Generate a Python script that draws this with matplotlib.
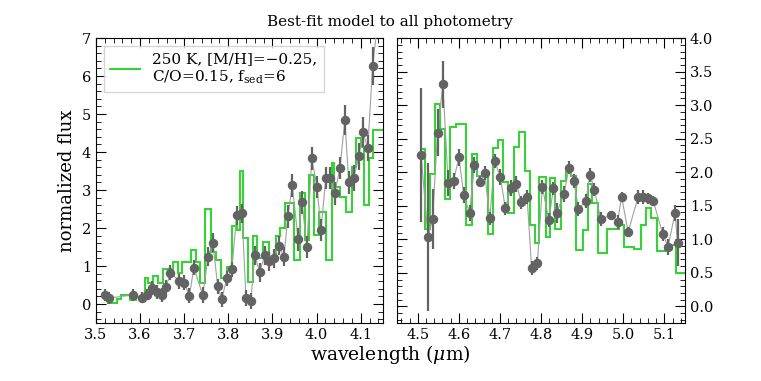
import numpy as np
import matplotlib
matplotlib.use("Agg")
import matplotlib.pyplot as plt
from matplotlib.ticker import MultipleLocator, FormatStrFormatter

plt.rcParams['font.family'] = ['DejaVu Serif']
plt.rcParams['mathtext.fontset'] = 'dejavuserif'

# ---- photometry, short-wavelength side (um, flux, err)
wl_a = [3.520, 3.529, 3.584, 3.604, 3.616, 3.627, 3.638, 3.649, 3.659, 3.669,
        3.689, 3.700, 3.712, 3.722, 3.742, 3.754, 3.765, 3.776, 3.785, 3.797,
        3.808, 3.819, 3.831, 3.840, 3.851, 3.860, 3.871, 3.883, 3.892, 3.903,
        3.914, 3.926, 3.935, 3.945, 3.958, 3.967, 3.978, 3.989, 4.001, 4.010,
        4.021, 4.030, 4.041, 4.053, 4.064, 4.073, 4.084, 4.096, 4.105, 4.116,
        4.127, 4.140]
fl_a = [0.24, 0.16, 0.24, 0.17, 0.25, 0.42, 0.32, 0.24, 0.45, 0.83,
        0.60, 0.56, 0.22, 0.96, 0.24, 1.24, 1.61, 0.47, 0.13, 0.68,
        0.92, 2.34, 2.39, 0.16, 0.08, 1.29, 0.84, 1.29, 1.13, 1.21,
        1.53, 1.24, 2.31, 3.13, 1.71, 2.68, 1.50, 3.84, 3.08, 1.95,
        3.32, 3.32, 2.92, 3.58, 4.84, 3.21, 3.32, 3.89, 4.53, 4.11,
        6.26, 7.60]
er_a = [0.15, 0.15, 0.15, 0.15, 0.15, 0.18, 0.18, 0.18, 0.18, 0.2,
        0.2, 0.2, 0.2, 0.2, 0.2, 0.25, 0.25, 0.2, 0.2, 0.2,
        0.2, 0.25, 0.25, 0.2, 0.2, 0.25, 0.25, 0.25, 0.25, 0.25,
        0.25, 0.25, 0.3, 0.3, 0.3, 0.3, 0.3, 0.3, 0.3, 0.3,
        0.3, 0.3, 0.3, 0.3, 0.4, 0.3, 0.35, 0.35, 0.4, 0.35,
        0.5, 0.6]

# ---- photometry, long-wavelength side
wl_b = [4.508, 4.525, 4.536, 4.548, 4.561, 4.574, 4.587, 4.600, 4.612, 4.626,
        4.638, 4.651, 4.663, 4.675, 4.687, 4.701, 4.713, 4.727, 4.740, 4.752,
        4.766, 4.777, 4.791, 4.803, 4.819, 4.830, 4.838, 4.856, 4.868, 4.880,
        4.891, 4.909, 4.919, 4.930, 4.945, 4.970, 4.986, 4.996, 5.012, 5.036,
        5.047, 5.059, 5.073, 5.096, 5.109, 5.126, 5.132]
fl_b = [2.26, 1.03, 1.30, 2.59, 3.31, 1.84, 1.87, 2.22, 1.66, 1.39,
        2.11, 1.86, 1.99, 1.31, 2.17, 1.93, 1.46, 1.77, 1.82, 1.55,
        1.63, 0.57, 0.64, 1.78, 1.29, 1.76, 1.39, 1.68, 2.07, 1.87,
        1.45, 1.57, 1.96, 1.74, 1.30, 1.36, 1.26, 1.63, 1.11, 1.63,
        1.63, 1.61, 1.57, 1.08, 0.89, 1.39, 0.95]
er_b = [1.00, 1.10, 0.45, 0.35, 0.35, 0.20, 0.12, 0.12, 0.12, 0.12,
        0.12, 0.08, 0.10, 0.10, 0.10, 0.12, 0.10, 0.12, 0.12, 0.10,
        0.10, 0.10, 0.10, 0.10, 0.10, 0.10, 0.15, 0.12, 0.10, 0.10,
        0.10, 0.10, 0.10, 0.10, 0.10, 0.06, 0.10, 0.08, 0.08, 0.10,
        0.10, 0.08, 0.08, 0.10, 0.12, 0.12, 0.35]

# ---- best-fit model (bin edges + values)
edge_a = [3.515, 3.528, 3.547, 3.558, 3.577, 3.590, 3.611, 3.618, 3.629, 3.640,
          3.651, 3.674, 3.685, 3.696, 3.715, 3.726, 3.737, 3.747, 3.761, 3.772,
          3.783, 3.797, 3.808, 3.819, 3.826, 3.833, 3.844, 3.855, 3.866, 3.878,
          3.893, 3.907, 3.918, 3.929, 3.948, 3.962, 3.973, 3.982, 3.995, 4.006,
          4.022, 4.035, 4.040, 4.052, 4.066, 4.080, 4.090, 4.100, 4.107, 4.118,
          4.128, 4.150]
mod_a = [0.18, 0.03, 0.13, 0.24, 0.10, 0.19, 0.68, 0.55, 0.74, 0.55,
         0.92, 1.10, 0.82, 1.10, 1.42, 1.10, 0.55, 2.50, 1.37, 1.16,
         0.68, 0.97, 2.05, 1.95, 3.50, 1.74, 0.58, 1.79, 1.21, 1.63,
         1.20, 1.79, 2.00, 2.66, 1.16, 2.92, 1.68, 3.39, 1.82, 2.42,
         1.16, 3.71, 3.08, 2.82, 2.42, 3.60, 4.37, 4.14, 2.60, 3.84,
         4.58]

edge_b = [4.506, 4.517, 4.530, 4.541, 4.553, 4.567, 4.579, 4.593, 4.618, 4.632,
          4.644, 4.670, 4.683, 4.694, 4.707, 4.720, 4.734, 4.746, 4.760, 4.772,
          4.785, 4.796, 4.811, 4.821, 4.833, 4.848, 4.860, 4.872, 4.886, 4.901,
          4.913, 4.925, 4.939, 4.960, 4.990, 5.002, 5.025, 5.043, 5.055, 5.067,
          5.083, 5.101, 5.118, 5.128, 5.150]
mod_b = [2.34, 1.16, 1.97, 3.02, 2.65, 1.60, 2.68, 2.72, 1.21, 2.27,
         1.94, 1.08, 2.36, 2.48, 1.86, 1.39, 2.38, 2.60, 2.02, 1.21,
         0.94, 1.93, 1.04, 1.91, 1.16, 1.87, 2.00, 1.95, 0.84, 1.14,
         1.83, 1.54, 0.80, 1.15, 1.21, 0.88, 0.86, 1.21, 1.46, 1.32,
         0.83, 0.85, 0.91, 0.50]

green = '#36d236'
ptcol = '#636363'

fig = plt.figure(figsize=(7.61, 3.81), dpi=100)
axL = fig.add_axes([0.126, 0.152, 0.377, 0.748])
axR = fig.add_axes([0.522, 0.152, 0.378, 0.748])

lbl = '250 K, [M/H]=\u22120.25,\nC/O=0.15, f$_{\\rm sed}$=6'

for ax, wl, fl, er, ed, md in [(axL, wl_a, fl_a, er_a, edge_a, mod_a),
                                (axR, wl_b, fl_b, er_b, edge_b, mod_b)]:
    ax.stairs(md, ed, baseline=None, color=green, lw=1.5, label=lbl, zorder=2)
    ax.plot(wl, fl, '-', color='#a0a0a0', lw=0.8, zorder=3)
    ax.errorbar(wl, fl, yerr=er, fmt='o', color=ptcol, ms=5.8, elinewidth=1.6,
                capsize=0, zorder=4)
    ax.tick_params(which='both', direction='in', top=True, bottom=True,
                   left=True, right=True, labelsize=10.5)
    ax.tick_params(which='major', length=7)
    ax.tick_params(which='minor', length=3.5)
    ax.xaxis.set_major_locator(MultipleLocator(0.1))
    ax.xaxis.set_minor_locator(MultipleLocator(0.02))
    ax.xaxis.set_major_formatter(FormatStrFormatter('%.1f'))

axL.set_xlim(3.5, 4.15)
axL.set_ylim(-0.5, 7)
axL.yaxis.set_major_locator(MultipleLocator(1))
axL.yaxis.set_minor_locator(MultipleLocator(0.2))
axL.set_ylabel('normalized flux', fontsize=13)
axL.legend(loc='upper left', fontsize=11, frameon=True, fancybox=False,
           edgecolor='#cccccc', handlelength=2.0, borderpad=0.4)

axR.set_xlim(4.45, 5.15)
axR.set_ylim(-0.25, 4.0)
axR.yaxis.set_major_locator(MultipleLocator(0.5))
axR.yaxis.set_minor_locator(MultipleLocator(0.1))
axR.yaxis.set_major_formatter(FormatStrFormatter('%.1f'))
axR.tick_params(axis='y', labelleft=False, labelright=True)

fig.text(0.513, 0.925, 'Best-fit model to all photometry', ha='center',
         va='bottom', fontsize=11)
fig.text(0.513, 0.04, 'wavelength ($\\mu$m)', ha='center', va='bottom',
         fontsize=13.5)

fig.savefig('out.png', dpi=100)
